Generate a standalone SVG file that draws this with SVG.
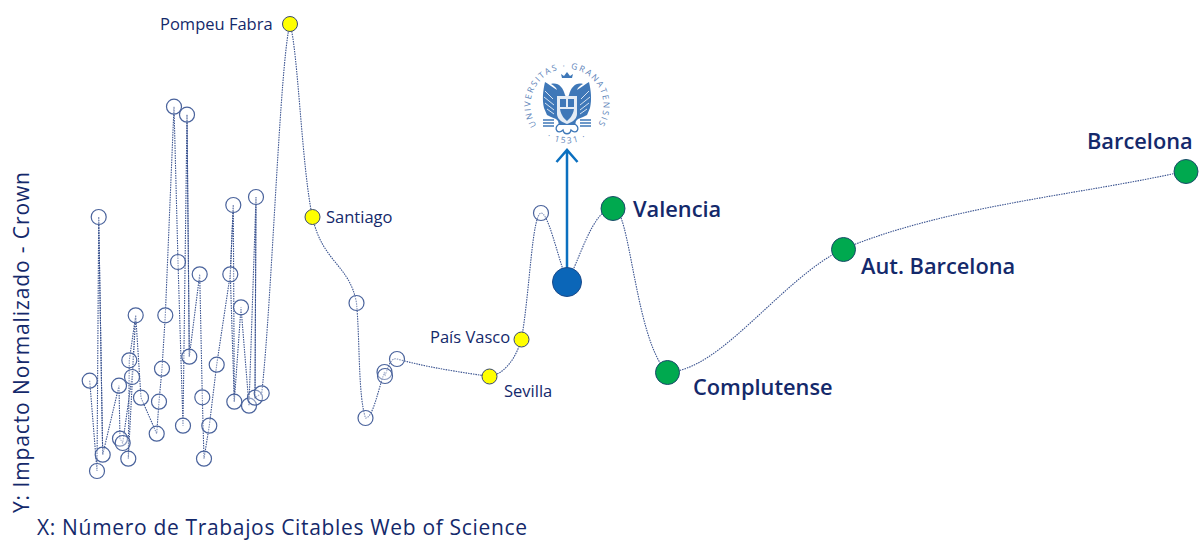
<svg xmlns="http://www.w3.org/2000/svg" width="1203" height="540" viewBox="0 0 1203 540">
<style>
text{font-family:"Open Sans","Noto Sans","Liberation Sans",sans-serif;fill:#14296b}
.big{font-size:21.800px;font-weight:600}
.mid{font-size:16.500px}
.ax{font-size:21px}
.c{fill:#fff;fill-opacity:.35;stroke:#4a639c;stroke-width:1.200}
.y{fill:#ffff00;stroke:#3a4a70;stroke-width:1}
.g{fill:#00a94f;stroke:#1a4a6a;stroke-width:1}
.l{fill:none;stroke:#3a5390;stroke-width:1.100;stroke-dasharray:1.500 1}
.s{font-size:8.500px;fill:#5b82b8;letter-spacing:1.700px}
.e{fill:#3f78b8}
.f{fill:none;stroke:#3f78b8;stroke-width:1.300}
</style>
<rect width="1203" height="540" fill="#fff"/>
<defs>
<path id="ringTop" d="M541 131A36.500 36.500 0 1 1 593 131"/>
<path id="ringBot" d="M544 136A40 40 0 0 0 590 136"/>
</defs>
<g id="connectors">
<path class="l" d="M89.700 380.700L97 471L98.700 217L102.700 454.700L119 385.700L120 438.700L122.700 443L132 377L135.700 315.300L129.300 360.300L128.300 458.700L135.700 315.300L141 397.700L156.700 433.700L159 401.700L162 368.700L165.300 315.300L174 106.700L178 262L183 425.700L187 114.700L189.300 356.700L199.700 274.300L202.300 397.300L204 458.700L209.300 425.700L216.700 364.700L230.300 274.300L233.300 205L234.300 401.700L241 307.300L249 405.700L256 197L255 397.700L261.700 393.300C272 300 280 60 290 24"/>
<path class="l" d="M187 114.700L189.300 356.700M233.300 205L230.300 274.300L234.300 401.700M256 197L255 397.700M98.700 217L102.700 454.700"/>
<path class="l" d="M290 24C298 50 302 170 312.500 217C322 262 350 265 356.500 303C360 340 358 395 365.500 418C373 418 378 390 384.500 372L385 376C390 360 393 358 397 359C430 368 460 372 489.500 376.500C505 374 516 358 521.500 339C530 290 532 215 541 213C548 213 556 250 567 282C580 260 592 210 613 208C630 205 635 340 667 372C720 372 780 280 843 249C950 205 1080 195 1186 171"/>
</g>
<g id="logo">
<text class="s" text-anchor="middle"><textPath href="#ringTop" startOffset="50%">UNIVERSITAS · GRANATENSIS</textPath></text>
<text class="s" text-anchor="middle"><textPath href="#ringBot" startOffset="50%">· 1531 ·</textPath></text>
<g transform="translate(567 105)">
<path class="e" d="M-2-10C-4-18-9-23-16-21C-13-19-11-18-10-15C-15-18-18-21-22-23C-24-14-25-6-23 3L-20 10L-16 12L-11 14L-9 16L-8 20L8 20L9 16L11 14L16 12L20 10L23 3C25-6 24-14 22-23C18-21 15-18 10-15C11-18 13-19 16-21C9-23 4-18 2-10L0-6Z"/>
<path class="e" d="M-5-27L-6-31L-3-29L0-33L3-29L6-31L5-27Z"/>
<path fill="#e4ecf5" d="M-10-9H10V9C10 15 3 18 0 19C-3 18-10 15-10 9Z"/>
<path class="e" d="M-7-6H-1V2H-7ZM1-6H7V2H1ZM-7 4H7C6 11 2 14 0 16C-2 14-6 11-7 4Z"/>
<path fill="none" stroke="#fff" stroke-width=".8" d="M-22-14L-14-6M-23-8L-13 0M-22-2L-13 5M-20 4L-13 9M22-14L14-6M23-8L13 0M22-2L13 5M20 4L13 9"/>
<path class="f" d="M-24 15H-13M-24 18H-13M-24 21H-13M13 15H24M13 18H24M13 21H24M-8 19C-14 24-9 30-4 25C-3 30 3 30 4 25C9 30 14 24 8 19"/>
</g>
</g>
<g id="arrow">
<path d="M567 282V150M556.500 162L567 150L577.500 162" fill="none" stroke="#0b70c0" stroke-width="2.500"/>
</g>
<g id="small-nodes">
<circle class="c" cx="98.700" cy="217" r="7.500"/><circle class="c" cx="174" cy="106.700" r="7.500"/><circle class="c" cx="187" cy="114.700" r="7.500"/><circle class="c" cx="178" cy="262" r="7.500"/><circle class="c" cx="199.700" cy="274.300" r="7.500"/><circle class="c" cx="230.300" cy="274.300" r="7.500"/><circle class="c" cx="233.300" cy="205" r="7.500"/><circle class="c" cx="256" cy="197" r="7.500"/>
<circle class="c" cx="135.700" cy="315.300" r="7.500"/><circle class="c" cx="165.300" cy="315.300" r="7.500"/><circle class="c" cx="129.300" cy="360.300" r="7.500"/><circle class="c" cx="132" cy="377" r="7.500"/><circle class="c" cx="89.700" cy="380.700" r="7.500"/><circle class="c" cx="119" cy="385.700" r="7.500"/><circle class="c" cx="141" cy="397.700" r="7.500"/><circle class="c" cx="162" cy="368.700" r="7.500"/><circle class="c" cx="159" cy="401.700" r="7.500"/><circle class="c" cx="156.700" cy="433.700" r="7.500"/><circle class="c" cx="120" cy="438.700" r="7.500"/><circle class="c" cx="122.700" cy="443" r="7.500"/><circle class="c" cx="102.700" cy="454.700" r="7.500"/><circle class="c" cx="128.300" cy="458.700" r="7.500"/><circle class="c" cx="97" cy="471" r="7.500"/><circle class="c" cx="189.300" cy="356.700" r="7.500"/><circle class="c" cx="216.700" cy="364.700" r="7.500"/><circle class="c" cx="202.300" cy="397.300" r="7.500"/><circle class="c" cx="183" cy="425.700" r="7.500"/><circle class="c" cx="209.300" cy="425.700" r="7.500"/><circle class="c" cx="204" cy="458.700" r="7.500"/><circle class="c" cx="241" cy="307.300" r="7.500"/><circle class="c" cx="234.300" cy="401.700" r="7.500"/><circle class="c" cx="249" cy="405.700" r="7.500"/><circle class="c" cx="255" cy="397.700" r="7.500"/><circle class="c" cx="261.700" cy="393.300" r="7.500"/>
<circle class="c" cx="356.500" cy="303" r="7.500"/><circle class="c" cx="365.500" cy="418" r="7.500"/><circle class="c" cx="384.500" cy="372" r="7.500"/><circle class="c" cx="385" cy="376" r="7.500"/><circle class="c" cx="397" cy="359" r="7.500"/><circle class="c" cx="541" cy="213" r="7.500"/>
</g>
<g id="pompeu"><circle class="y" cx="290" cy="24" r="7.500"/><text class="mid" x="160" y="29.500">Pompeu Fabra</text></g>
<g id="santiago"><circle class="y" cx="312.500" cy="217" r="7.500"/><text class="mid" x="326" y="222.500">Santiago</text></g>
<g id="paisvasco"><circle class="y" cx="521.500" cy="339.500" r="7.500"/><text class="mid" x="430" y="342.500">País Vasco</text></g>
<g id="sevilla"><circle class="y" cx="489.500" cy="376.500" r="7.500"/><text class="mid" x="504" y="396.500">Sevilla</text></g>
<g id="granada"><circle cx="567" cy="282" r="14.500" fill="#0b66b8" stroke="#1a4a8a"/></g>
<g id="valencia"><circle class="g" cx="613" cy="208.500" r="12"/><text class="big" x="633" y="216.500">Valencia</text></g>
<g id="complutense"><circle class="g" cx="667.500" cy="372.500" r="12"/><text class="big" x="693" y="395">Complutense</text></g>
<g id="autbarcelona"><circle class="g" cx="843.500" cy="249.500" r="12"/><text class="big" x="861" y="274">Aut. Barcelona</text></g>
<g id="barcelona"><circle class="g" cx="1186" cy="171.500" r="12"/><text class="big" x="1087" y="149">Barcelona</text></g>
<g id="axes">
<text class="ax" x="37" y="535" textLength="490">X: Número de Trabajos Citables Web of Science</text>
<text class="ax" transform="translate(29 513) rotate(-90)" textLength="341">Y: Impacto Normalizado - Crown</text>
</g>
</svg>
